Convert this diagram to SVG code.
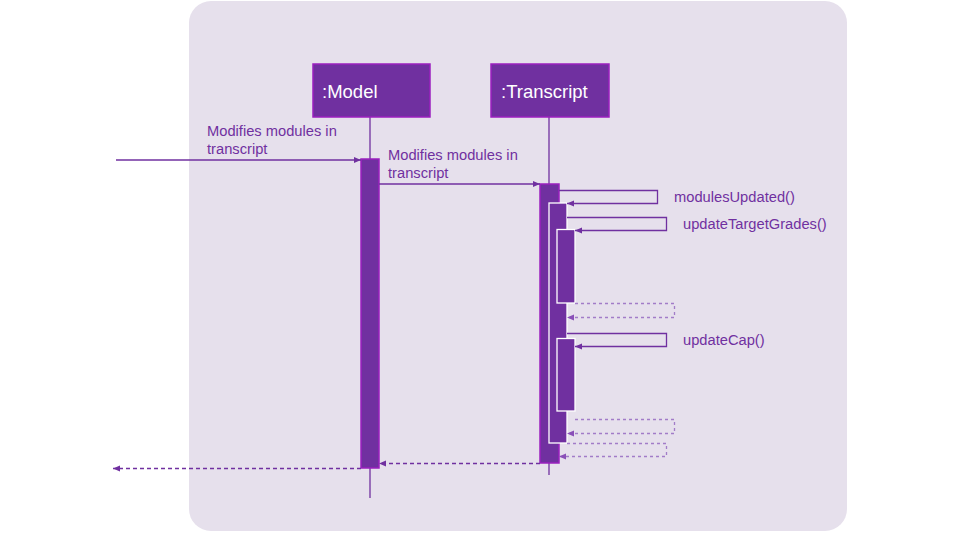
<svg xmlns="http://www.w3.org/2000/svg" width="960" height="540" viewBox="0 0 960 540">
<style>
.lbl{font-family:"Liberation Sans",Arial,sans-serif;font-size:14.7px;fill:#7030a0}
.head{font-family:"Liberation Sans",Arial,sans-serif;font-size:18.5px;fill:#ffffff}
.box{fill:#7030a0;stroke:#9b1fbf;stroke-width:1.5}
.life{stroke:#7030a0;stroke-width:1.3;fill:none}
.msg{stroke:#7030a0;stroke-width:1.3;fill:none}
.ret{stroke:#7030a0;stroke-width:1.3;fill:none;stroke-dasharray:4 3}
.ret2{stroke:#a27cc8;stroke-width:1.3;fill:none;stroke-dasharray:3 3}
.actA{fill:#7030a0;stroke:#9b1fbf;stroke-width:1.5}
.actW{fill:#7030a0;stroke:#ffffff;stroke-width:1.3}
</style>
<defs>
<marker id="ah" markerWidth="8" markerHeight="8" refX="7" refY="4" orient="auto" markerUnits="userSpaceOnUse">
<path d="M0,1 L7,4 L0,7 Z" fill="#7030a0"/>
</marker>
<marker id="ah2" markerWidth="8" markerHeight="8" refX="7" refY="4" orient="auto" markerUnits="userSpaceOnUse">
<path d="M0,1 L7,4 L0,7 Z" fill="#8a50b8"/>
</marker>
</defs>
<rect x="0" y="0" width="960" height="540" fill="#ffffff"/>
<rect x="189" y="1" width="658" height="530" rx="22" ry="22" fill="#e6e0ec"/>

<g id="model">
<line class="life" x1="370" y1="117" x2="370" y2="498"/>
<rect class="box" x="313" y="64" width="117" height="53"/>
<text class="head" x="322" y="98">:Model</text>
<rect class="actA" x="361" y="159" width="18" height="309"/>
</g>

<g id="transcript">
<line class="life" x1="549" y1="117" x2="549" y2="475"/>
<rect class="box" x="491" y="64" width="118" height="53"/>
<text class="head" x="501" y="98">:Transcript</text>
<rect class="actA" x="540" y="184" width="19" height="279"/>
<rect class="actW" x="549" y="203" width="18" height="240"/>
<rect class="actW" x="557" y="229.5" width="18" height="73.5"/>
<rect class="actW" x="557" y="338.5" width="18" height="72.5"/>
</g>

<g id="connectors">
<line class="msg" x1="116" y1="160" x2="361" y2="160" marker-end="url(#ah)"/>
<line class="msg" x1="379" y1="184" x2="540" y2="184" marker-end="url(#ah)"/>
<polyline class="msg" points="559,190.5 657.5,190.5 657.5,203.5 567,203.5" marker-end="url(#ah)"/>
<polyline class="msg" points="567,217.5 666.5,217.5 666.5,230.5 575,230.5" marker-end="url(#ah)"/>
<polyline class="ret2" points="575,303.5 674.5,303.5 674.5,317.5 567,317.5" marker-end="url(#ah2)"/>
<polyline class="msg" points="567,333.5 666.5,333.5 666.5,346.5 575,346.5" marker-end="url(#ah)"/>
<polyline class="ret2" points="575,419.5 674.5,419.5 674.5,433.5 567,433.5" marker-end="url(#ah2)"/>
<polyline class="ret2" points="567,443.5 666.5,443.5 666.5,456.5 559,456.5" marker-end="url(#ah2)"/>
<line class="ret" x1="540" y1="463.5" x2="379" y2="463.5" marker-end="url(#ah)"/>
<line class="ret" x1="361" y1="468.5" x2="113" y2="468.5" marker-end="url(#ah)"/>
</g>

<g id="labels">
<text class="lbl" x="207" y="136">Modifies modules in</text>
<text class="lbl" x="207" y="154">transcript</text>
<text class="lbl" x="388" y="160">Modifies modules in</text>
<text class="lbl" x="388" y="178">transcript</text>
<text class="lbl" x="674" y="202">modulesUpdated()</text>
<text class="lbl" x="683" y="229">updateTargetGrades()</text>
<text class="lbl" x="683" y="345">updateCap()</text>
</g>
</svg>
